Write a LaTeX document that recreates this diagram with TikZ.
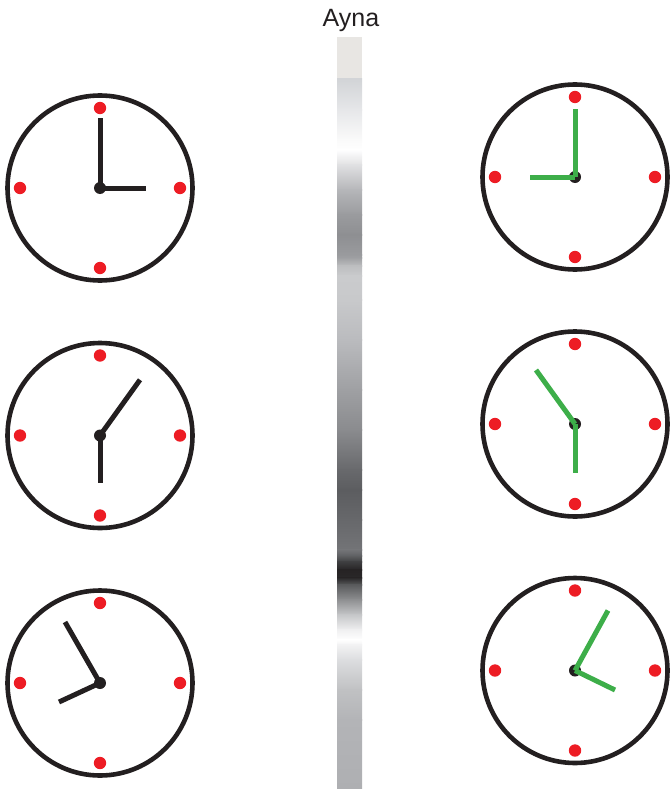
\documentclass[tikz,border=0pt]{standalone}
\usepackage{fontspec}
\setmainfont{Liberation Sans}
\definecolor{ink}{HTML}{231F20}
\definecolor{dotred}{HTML}{ED1C24}
\definecolor{handgreen}{HTML}{3DAE49}
\definecolor{mtop}{HTML}{E8E6E3}
\begin{document}
\begin{tikzpicture}[x=1pt,y=-1pt,
  face/.style={draw=ink,line width=4.6pt},
  reddot/.style={fill=dotred},
  hub/.style={fill=ink},
  lhand/.style={draw=ink,line width=5pt},
  rhand/.style={draw=handgreen,line width=5pt}]
\useasboundingbox (0,0) rectangle (669,789);
% title
\node[anchor=base,text=ink,font=\fontsize{25}{30}\selectfont,inner sep=0pt] (title) at (351,26.5) {Ayna};
% mirror strip
\fill[mtop] (337,37) rectangle (362,79.5);
\foreach \ya/\ca/\yb/\cb in {
 79/D2D4D7/110/E6E7E9,
 110/E6E7E9/140/FAFAFA,
 140/FAFAFA/150/FFFFFF,
 150/FFFFFF/165/E0E0E2,
 165/E0E0E2/190/B5B6B9,
 190/B5B6B9/215/9A9B9E,
 215/9A9B9E/235/8E8F92,
 235/8E8F92/255/9A9B9E,
 255/9A9B9E/258/9FA0A3,
 258/9FA0A3/266/BDBEC0,
 266/BDBEC0/276/CACBCD,
 276/CACBCD/300/C8C9CB,
 300/C8C9CB/340/BABBBE,
 340/BABBBE/390/9FA0A3,
 390/9FA0A3/430/8A8B8E,
 430/8A8B8E/470/68696C,
 470/68696C/490/5C5D60,
 490/5C5D60/520/67686B,
 520/67686B/550/737477,
 550/737477/556/5E5F62,
 556/5E5F62/562/3E3E40,
 562/3E3E40/570/262324,
 570/262324/578/2A2829,
 578/2A2829/585/5A5B5D,
 585/5A5B5D/600/8F9092,
 600/8F9092/615/C6C7C9,
 615/C6C7C9/630/F0F0F1,
 630/F0F0F1/640/FFFFFF,
 640/FFFFFF/645/F2F2F3,
 645/F2F2F3/660/DCDDDF,
 660/DCDDDF/690/C0C1C3,
 690/C0C1C3/720/B3B4B7,
 720/B3B4B7/789/AEAFB2}{
  \definecolor{sa}{HTML}{\ca}\definecolor{sb}{HTML}{\cb}
  \fill[top color=sa,bottom color=sb] (337,\ya-0.3) rectangle (362,\yb+0.3);
}
% clock centres
\coordinate (L1) at (100,188);
\coordinate (L2) at (100,435.5);
\coordinate (L3) at (100,683);
\coordinate (R1) at (575,177);
\coordinate (R2) at (575,424);
\coordinate (R3) at (575,670.5);
% faces
\foreach \c in {L1,L2,L3,R1,R2,R3}{
  \draw[face] (\c) circle (92.5);
  \fill[reddot] (\c) ++(0,-80) circle (6.2);
  \fill[reddot] (\c) ++(0,80) circle (6.2);
  \fill[reddot] (\c) ++(-80,0) circle (6.2);
  \fill[reddot] (\c) ++(80,0) circle (6.2);
}
% left hands (black)
\draw[lhand] (L1) -- ++(0,-70);
\draw[lhand] (L1) -- ++(46,0);
\draw[lhand] (L2) -- ++(40,-55.7);
\draw[lhand] (L2) -- ++(0,47);
\draw[lhand] (L3) -- ++(-35,-61);
\draw[lhand] (L3) -- ++(-41,19);
\foreach \c in {L1,L2,L3}{\fill[hub] (\c) circle (6);}
% right hands (green, mirrored)
\foreach \c in {R1,R2,R3}{\fill[hub] (\c) circle (6);}
\draw[rhand] (R1) -- ++(0,-68);
\draw[rhand] (R1) -- ++(-45,0);
\draw[rhand] (R2) -- ++(-39,-54);
\draw[rhand] (R2) -- ++(0,48.5);
\draw[rhand] (R3) -- ++(33,-60);
\draw[rhand] (R3) -- ++(40,19.5);
\end{tikzpicture}
\end{document}
